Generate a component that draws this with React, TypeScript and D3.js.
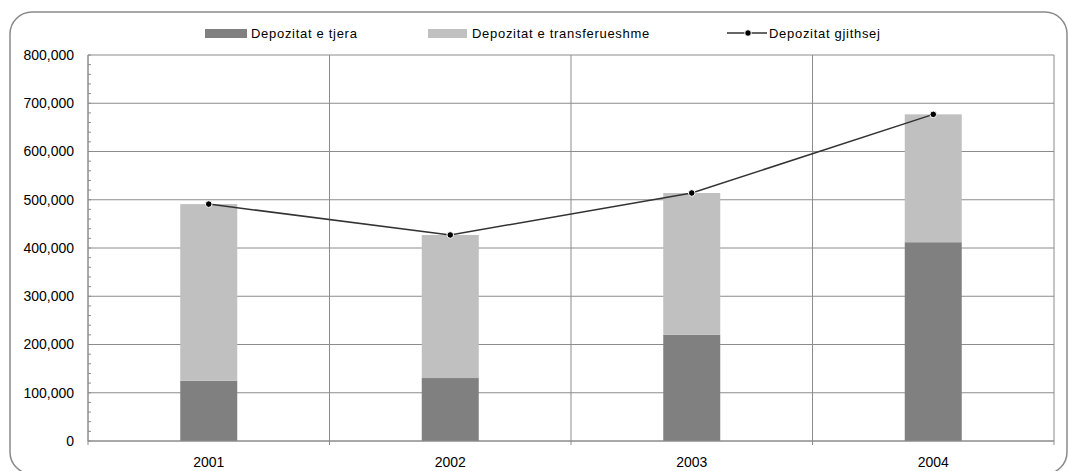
import React from "react";
import * as d3 from "d3";

const years = ["2001", "2002", "2003", "2004"];
const otherDeposits = [125000, 130500, 220000, 412000];
const transferableDeposits = [366000, 296500, 294000, 265000];
const totalDeposits = [491000, 427000, 514000, 677000];
const yTicks = [0, 100000, 200000, 300000, 400000, 500000, 600000, 700000, 800000];
const legendLabels = ["Depozitat e tjera", "Depozitat e transferueshme", "Depozitat gjithsej"];

const W = 1068;
const H = 471;
const left = 88;
const right = 1054;
const top = 55;
const bottom = 441;
const FONT = "'Liberation Sans', Arial, sans-serif";

export default function App() {
  const x = d3.scaleBand<string>().domain(years).range([left, right]).paddingInner(0).paddingOuter(0);
  const y = d3.scaleLinear().domain([0, 800000]).range([bottom, top]);
  const barW = 57;
  const minor = d3.range(0, 800001, 20000);
  const fmt = d3.format(",");
  const line = d3
    .line<number>()
    .x((_, i) => (x(years[i]) as number) + x.bandwidth() / 2)
    .y((d) => y(d));
  const boundaries = years.map((yr) => x(yr) as number).concat([right]);

  return (
    <svg width={W} height={H} style={{ position: "absolute", left: 0, top: 0 }} fontFamily={FONT}>
      <rect x={0} y={0} width={W} height={H} fill="#fff" />
      <rect x={10} y={12} width={1057} height={462} rx={22} fill="#fff" stroke="#8a8a8a" strokeWidth={1.5} />
      {yTicks.map((t) => (
        <line key={"g" + t} x1={left} x2={right} y1={y(t)} y2={y(t)} stroke="#8c8c8c" strokeWidth={1} />
      ))}
      {boundaries.map((b, i) => (
        <line key={"v" + i} x1={b} x2={b} y1={top} y2={bottom + 4} stroke="#8c8c8c" strokeWidth={1} />
      ))}
      {minor.map((t) => (
        <line key={"m" + t} x1={left} x2={left + 3} y1={y(t)} y2={y(t)} stroke="#8c8c8c" strokeWidth={1} />
      ))}
      {years.map((yr, i) => {
        const cx = (x(yr) as number) + x.bandwidth() / 2;
        const o = otherDeposits[i];
        const t = transferableDeposits[i];
        return (
          <g key={yr}>
            <rect x={cx - barW / 2} y={y(o)} width={barW} height={y(0) - y(o)} fill="#808080" />
            <rect x={cx - barW / 2} y={y(o + t)} width={barW} height={y(o) - y(o + t)} fill="#c0c0c0" />
          </g>
        );
      })}
      <line x1={left} x2={left} y1={top} y2={bottom} stroke="#8c8c8c" strokeWidth={1} />
      <line x1={left} x2={right} y1={bottom} y2={bottom} stroke="#8c8c8c" strokeWidth={1} />
      <path d={line(totalDeposits) as string} fill="none" stroke="#333" strokeWidth={1.5} />
      {totalDeposits.map((v, i) => (
        <circle
          key={"c" + i}
          cx={(x(years[i]) as number) + x.bandwidth() / 2}
          cy={y(v)}
          r={3.3}
          fill="#000"
          stroke="#fff"
          strokeWidth={1}
        />
      ))}
      {yTicks.map((t) => (
        <text key={"yl" + t} x={74} y={y(t)} dy="0.35em" textAnchor="end" fontSize={14} fill="#000">
          {fmt(t)}
        </text>
      ))}
      {years.map((yr) => (
        <text
          key={"xl" + yr}
          x={(x(yr) as number) + x.bandwidth() / 2}
          y={467}
          textAnchor="middle"
          fontSize={14}
          fill="#000"
        >
          {yr}
        </text>
      ))}
      <g fontSize={13} fill="#000" letterSpacing={0.7}>
        <rect x={205} y={29} width={42} height={9} fill="#808080" />
        <text x={251} y={38}>{legendLabels[0]}</text>
        <rect x={428} y={29} width={39} height={9} fill="#c0c0c0" />
        <text x={472} y={38}>{legendLabels[1]}</text>
        <line x1={727} x2={767} y1={33} y2={33} stroke="#333" strokeWidth={1.5} />
        <circle cx={748} cy={33} r={3.3} fill="#000" stroke="#fff" strokeWidth={1} />
        <text x={769} y={38}>{legendLabels[2]}</text>
      </g>
    </svg>
  );
}
